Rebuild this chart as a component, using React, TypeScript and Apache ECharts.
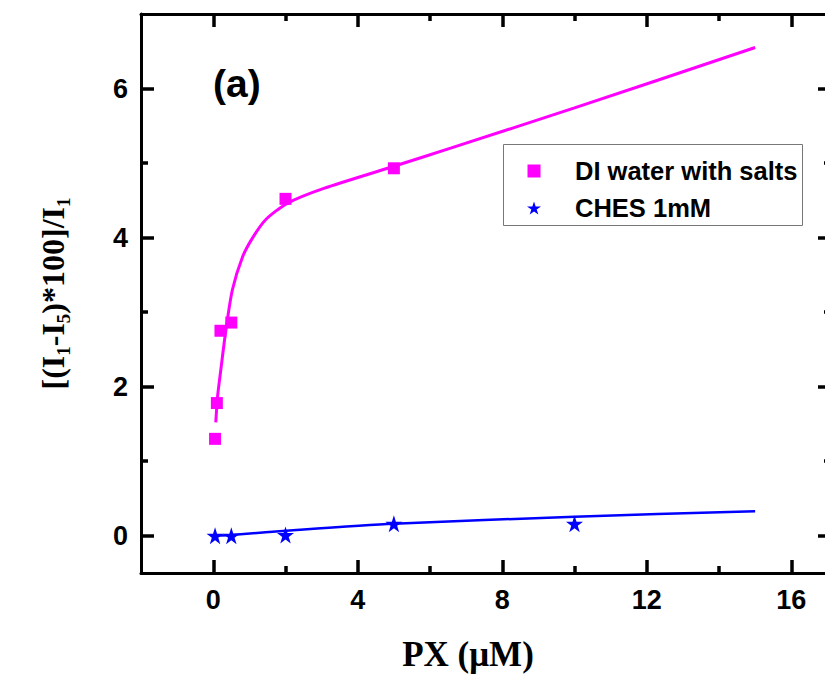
import React, { useEffect, useRef } from "react";
import * as echarts from "echarts";

// ---- data ----
const diX = [0.05, 0.1, 0.2, 0.5, 2, 5];
const diY = [1.3, 1.78, 2.75, 2.86, 4.52, 4.93];
const chesX = [0.05, 0.5, 2, 5, 10];
const chesY = [0, 0, 0.01, 0.16, 0.16];
const diFitX = [0.07, 0.12, 0.2, 0.35, 0.53, 0.81, 1.08, 1.45, 2.05, 3.06, 5.09, 6.57, 10, 15];
const diFitY = [1.52, 1.87, 2.19, 2.76, 3.3, 3.74, 3.99, 4.24, 4.46, 4.66, 4.97, 5.2, 5.74, 6.55];
const chesFitX = [0.05, 0.5, 2.4, 5, 10, 15];
const chesFitY = [0, 0.01, 0.08, 0.16, 0.255, 0.33];

const xMajor = [0, 4, 8, 12, 16];
const xMinor = [2, 6, 10, 14];
const yMajor = [0, 2, 4, 6];
const yMinor = [1, 3, 5];

const legendNames = ["DI water with salts", "CHES 1mM"];

const STAR =
  "path://M50,0 L61.8,35.3 L100,35.3 L69.1,57.1 L80.9,92.7 L50,70.9 L19.1,92.7 L30.9,57.1 L0,35.3 L38.2,35.3 Z";
const SQUARE = "path://M0,0 L10,0 L10,10 L0,10 Z";

const zip = (xs: number[], ys: number[]) => xs.map((x, i) => [x, ys[i]]);

const SANS = "Arial, 'Liberation Sans', sans-serif";
const SERIF = "'Times New Roman', 'Liberation Serif', serif";

export default function App() {
  const ref = useRef<HTMLDivElement>(null);
  useEffect(() => {
    if (!ref.current) return;
    const chart = echarts.init(ref.current, null, { renderer: "svg" });
    const axisLine = { show: true, onZero: false, lineStyle: { color: "#000", width: 3 } };
    const noLine = { show: false, onZero: false };
    const xBase = { type: "value", min: -2, max: 17.1, splitLine: { show: false } };
    const yBase = { type: "value", min: -0.5, max: 7, splitLine: { show: false } };
    const majorTick = (vals: number[]) => ({
      show: true, inside: true, length: 13, customValues: vals,
      lineStyle: { color: "#000", width: 3.5 },
    });
    const minorTick = (vals: number[]) => ({
      show: true, inside: true, length: 7, customValues: vals,
      lineStyle: { color: "#000", width: 3.5 },
    });
    const label = (vals: number[]) => ({
      show: true, customValues: vals, margin: 13, color: "#000",
      fontSize: 27, fontWeight: "bold", fontFamily: SANS,
    });
    const nS = { fontFamily: SERIF, fontWeight: "bold", fontSize: 32, color: "#000" };
    const sS = { fontFamily: SERIF, fontWeight: "bold", fontSize: 19, color: "#000", padding: [22, 0, 0, 0] };

    chart.setOption({
      animation: false,
      backgroundColor: "#fff",
      grid: { left: 141, top: 14, width: 690, height: 559, outerBoundsMode: "none", containLabel: false },
      legend: {
        orient: "vertical",
        left: 527,
        top: 158,
        padding: 0,
        borderWidth: 0,
        itemWidth: 72,
        itemHeight: 13,
        itemGap: 11,
        symbolKeepAspect: true,
        data: [
          { name: legendNames[0], icon: SQUARE },
          { name: legendNames[1], icon: STAR },
        ],
        textStyle: { fontFamily: SANS, fontWeight: "bold", fontSize: 25.5, color: "#000" },
      },
      xAxis: [
        {
          ...xBase, position: "bottom", axisLine, axisTick: majorTick(xMajor), axisLabel: label(xMajor),
          name: "PX (μM)", nameLocation: "middle", nameGap: 64,
          nameTextStyle: { fontFamily: SERIF, fontWeight: "bold", fontSize: 35, color: "#000", padding: [0, 36, 0, 0] },
        },
        { ...xBase, position: "bottom", axisLine: noLine, axisTick: minorTick(xMinor), axisLabel: { show: false } },
        { ...xBase, position: "top", axisLine, axisTick: majorTick(xMajor), axisLabel: { show: false } },
        { ...xBase, position: "top", axisLine: noLine, axisTick: minorTick(xMinor), axisLabel: { show: false } },
      ],
      yAxis: [
        {
          ...yBase, position: "left", axisLine, axisTick: majorTick(yMajor), axisLabel: label(yMajor),
          name: "{n|[(I}{s|1}{n|-I}{s|5}{n|)*100]/I}{s|1}",
          nameLocation: "middle", nameRotate: 90, nameGap: 68,
          nameTextStyle: { padding: [0, 0, 0, 0], rich: { n: nS, s: sS } },
        },
        { ...yBase, position: "left", axisLine: noLine, axisTick: minorTick(yMinor), axisLabel: { show: false } },
        { ...yBase, position: "right", axisLine, axisTick: majorTick(yMajor), axisLabel: { show: false } },
        { ...yBase, position: "right", axisLine: noLine, axisTick: minorTick(yMinor), axisLabel: { show: false } },
      ],
      graphic: [
        {
          type: "text", left: 213, top: 64, z: 100,
          style: { text: "(a)", fontFamily: SANS, fontWeight: "bold", fontSize: 39, fill: "#000" },
        },
        {
          type: "rect", left: 503, top: 144, z: 0, silent: true,
          shape: { width: 299, height: 81 },
          style: { fill: "#fff", stroke: "#777", lineWidth: 1 },
        },
      ],
      series: [
        {
          name: "DI fit", type: "line", xAxisIndex: 0, yAxisIndex: 0, data: zip(diFitX, diFitY),
          showSymbol: false, smooth: 0.25,
          lineStyle: { color: "#FF00FF", width: 3 }, z: 2,
        },
        {
          name: "CHES fit", type: "line", xAxisIndex: 0, yAxisIndex: 0, data: zip(chesFitX, chesFitY),
          showSymbol: false, smooth: 0.25,
          lineStyle: { color: "#0000FF", width: 2.5 }, z: 2,
        },
        {
          name: legendNames[0], type: "scatter", xAxisIndex: 0, yAxisIndex: 0, data: zip(diX, diY),
          symbol: SQUARE, symbolSize: 12, itemStyle: { color: "#FF00FF", opacity: 1 }, z: 3,
        },
        {
          name: legendNames[1], type: "scatter", xAxisIndex: 0, yAxisIndex: 0, data: zip(chesX, chesY),
          symbol: STAR, symbolSize: 17, itemStyle: { color: "#0000FF", opacity: 1 }, z: 3,
        },
      ],
    });
    return () => chart.dispose();
  }, []);
  return (
    <div
      style={{ position: "absolute", left: 0, top: 0, width: 825, height: 677, overflow: "hidden", background: "#fff" }}
    >
      <div ref={ref} style={{ width: 900, height: 677 }} />
    </div>
  );
}
